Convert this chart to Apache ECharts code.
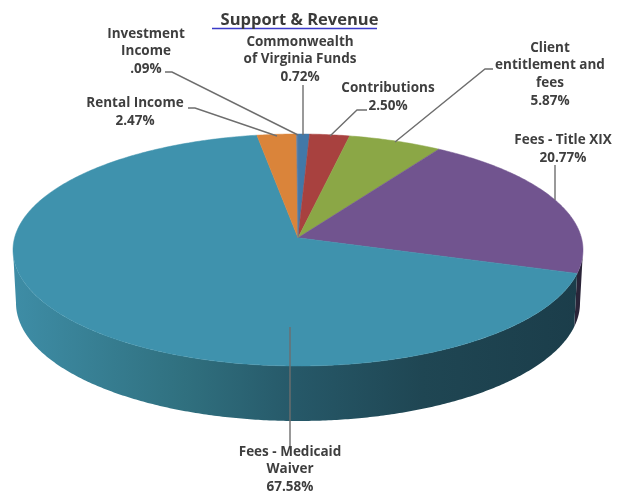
<!DOCTYPE html>
<html><head><meta charset="utf-8">
<style>html,body{margin:0;padding:0;background:#fff}#c{width:622px;height:496px;filter:blur(0.5px)}</style>
<script src="https://cdn.jsdelivr.net/npm/echarts@6/dist/echarts.min.js"></script>
</head><body><div id="c"></div>
<script>
const categories = ["Commonwealth\nof Virginia Funds","Contributions","Client\nentitlement and\nfees","Fees - Title XIX","Fees - Medicaid\nWaiver","Rental Income","Investment\nIncome"];
const values = [0.72,2.50,5.87,20.77,67.58,2.47,0.09];
const valueLabels = ["0.72%","2.50%","5.87%","20.77%","67.58%","2.47%",".09%"];
const colors = ["#4278A8","#A8413F","#8BA746","#71548F","#3F92AD","#DA843A","#5B7FA8"];

// presentation only
const labelPos = [[300,59.5],[388,97.5],[550,74.5],[563,149],[290,469.5],[135,112.5],[146,51.5]];
const leaders = [
  [[303,85],[303,135]],
  [[367,110],[357,110],[330,136]],
  [[493,69],[485,69],[395,142]],
  [[555,165],[555,200]],
  [[290,327],[290,447]],
  [[188,108],[195,108],[277,136]],
  [[165,72],[172,72],[298,135]]
];
const topRim = {cx:298,cy:250,rx:285,ry:116};
const botRim = {cx:298,cy:303,rx:282,ry:118};
const persp = 0.9;
const apexY = topRim.cy - topRim.ry*Math.cos(2*Math.atan(persp));
const total = values.reduce((a,b)=>a+b,0);

function theta(frac){ // fraction of circle -> rim angle, foreshortened
  if (frac>=0.99999) return Math.PI*2;
  const a = frac*Math.PI*2;
  if (Math.abs(a-Math.PI)<1e-9) return Math.PI;
  let t = 2*Math.atan(persp*Math.tan(a/2));
  if (t<0) t += Math.PI*2;
  return t;
}
function rim(e,t){ return [e.cx+e.rx*Math.sin(t), e.cy-e.ry*Math.cos(t)]; }
function arc(e,t0,t1){ const p=[],n=Math.max(2,Math.ceil(Math.abs(t1-t0)/0.01));
  for(let i=0;i<=n;i++) p.push(rim(e,t0+(t1-t0)*i/n)); return p; }

function renderItem(params, api){
  const i = params.dataIndex;
  let before = 0; for(let k=0;k<i;k++) before += values[k];
  const t0 = theta(before/total), t1 = theta((before+api.value(0))/total);
  const children = [];
  // wall (visible front part only)
  const s0 = Math.max(t0,Math.PI/2), s1 = Math.min(t1,Math.PI*1.5);
  if (s1>s0){
    const wall = arc(topRim,s0,s1).concat(arc(botRim,s1,s0));
    const fill = i===4 ? {type:'linear',global:true,x:13,y:0,x2:582,y2:0,colorStops:[
        {offset:0,color:'#3E8DA6'},{offset:0.3,color:'#30707F'},{offset:0.5,color:'#265868'},
        {offset:0.72,color:'#1F4653'},{offset:1,color:'#1B3D4A'}]} : '#2A2438';
    children.push({type:'polygon',shape:{points:wall},style:{fill:fill,stroke:null}});
  }
  // top face
  children.push({type:'polygon',shape:{points:[[topRim.cx,apexY]].concat(arc(topRim,t0,t1))},
    style:{fill:colors[i],stroke:colors[i],lineWidth:0.5}});
  return {type:'group',children:children};
}
function renderLabel(params, api){
  const i = params.dataIndex;
  return {type:'group',children:[
    {type:'polyline',shape:{points:leaders[i]},style:{stroke:'#6E6E6E',lineWidth:1.4,fill:null}},
    {type:'text',style:{x:labelPos[i][0],y:labelPos[i][1],text:categories[i]+"\n"+valueLabels[i],
      align:'center',verticalAlign:'middle',font:'bold 13.5px "Open Sans"',lineHeight:17.7,fill:'#3E3E3E'}}
  ]};
}
const chart = echarts.init(document.getElementById('c'),null,{renderer:'canvas'});
chart.setOption({
  animation:false,
  backgroundColor:'#fff',
  title:{text:'Support & Revenue',left:294.5,top:7,textAlign:'center',
    textStyle:{fontFamily:'Open Sans',fontWeight:'bold',fontSize:16.5,color:'#3A3A3A'}},
  graphic:[{type:'line',shape:{x1:212,y1:28.5,x2:377,y2:28.5},style:{stroke:'#3A3AC8',lineWidth:1.5},z:5}],
  series:[
    {type:'custom',coordinateSystem:'none',renderItem:renderItem,data:values.map(v=>[v]),silent:true,z:2},
    {type:'custom',coordinateSystem:'none',renderItem:renderLabel,data:values.map(v=>[v]),silent:true,z:3}
  ]
});
</script></body></html>
